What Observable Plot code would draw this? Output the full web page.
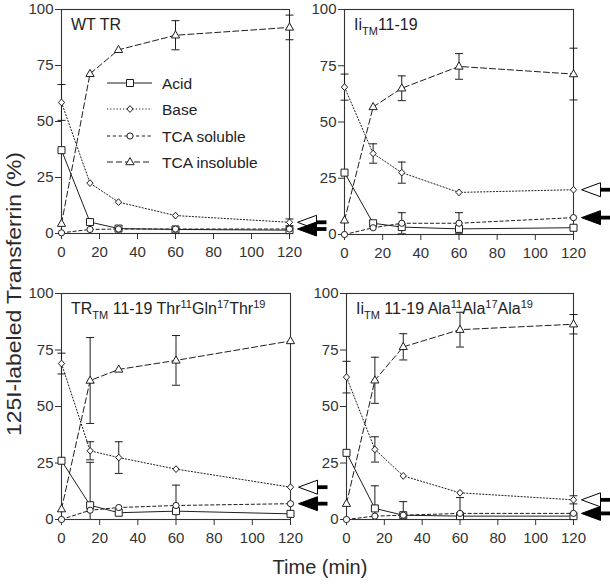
<!DOCTYPE html>
<html><head><meta charset="utf-8">
<script src="https://cdn.jsdelivr.net/npm/d3@7"></script>
<script src="https://cdn.jsdelivr.net/npm/@observablehq/plot@0.6"></script>
<style>
body{margin:0;background:#fff;}
#root{position:relative;width:610px;height:584px;font-family:"Liberation Sans",Arial,Helvetica,sans-serif;overflow:hidden;}
.panel{position:absolute;}
.panel svg{overflow:visible;}
</style></head><body><div id="root"></div>
<script>
// ---------- data ----------
const times = [0, 15, 30, 60, 120];
const xTicks = [0, 20, 40, 60, 80, 100, 120];
const yTicks = [0, 25, 50, 75, 100];
const seriesNames = ["Acid", "Base", "TCA soluble", "TCA insoluble"];

// Panel 1: WT TR
const wtAcid  = [37.2, 5.1, 2.2, 1.8, 1.5];
const wtBase  = [58.5, 22.5, 14.0, 8.0, 5.0];
const wtSol   = [0.3, 1.8, 2.0, 2.0, 2.0];
const wtInsol = [4.4, 71.3, 82.0, 88.5, 92.0];
const wtErr   = [["Base", 0, 8], ["TCA insoluble", 60, 6.5], ["TCA insoluble", 120, 5.5], ["Base", 120, 1.5]];

// Panel 2: Ii_TM 11-19
const iiAcid  = [27.5, 5.0, 3.3, 2.5, 3.0];
const iiBase  = [65.5, 36.0, 27.5, 18.7, 19.9];
const iiSol   = [0.0, 3.0, 5.0, 5.0, 7.5];
const iiInsol = [6.3, 56.7, 65.0, 74.7, 71.3];
const iiErr   = [["Base", 0, 5.8], ["Base", 15, 4.3], ["Base", 30, 4.7], ["TCA insoluble", 30, 5.5],
                 ["TCA insoluble", 60, 5.7], ["TCA insoluble", 120, 11.5], ["TCA soluble", 30, 4.7], ["TCA soluble", 60, 4.7]];

// Panel 3: TR_TM 11-19 Thr11Gln17Thr19
const trAcid  = [26.0, 6.3, 3.0, 3.7, 2.5];
const trBase  = [69.0, 30.4, 27.4, 22.3, 14.3];
const trSol   = [0.0, 4.1, 5.3, 6.2, 7.0];
const trInsol = [4.6, 61.5, 66.4, 70.4, 79.0];
const trErr   = [["Base", 0, 4.6], ["TCA insoluble", 15, 19], ["Base", 15, 4], ["Acid", 15, 19],
                 ["Base", 30, 7], ["TCA insoluble", 60, 11], ["TCA soluble", 60, 9]];

// Panel 4: Ii_TM 11-19 Ala11Ala17Ala19
const alaAcid  = [29.5, 4.9, 1.9, 1.5, 1.5];
const alaBase  = [63.0, 31.0, 19.3, 11.8, 8.7];
const alaSol   = [0.0, 1.5, 1.9, 2.7, 2.7];
const alaInsol = [7.0, 61.6, 76.4, 84.0, 86.4];
const alaErr   = [["Base", 0, 7], ["TCA insoluble", 15, 10.2], ["Base", 15, 5.6], ["Acid", 15, 10],
                  ["TCA insoluble", 30, 5.8], ["Acid", 30, 6], ["TCA insoluble", 60, 7.7], ["TCA soluble", 60, 7],
                  ["TCA insoluble", 120, 4.3], ["Base", 120, 1.8]];

// Panel titles as [text, kind] runs: n normal, sub subscript, sup superscript
const title1 = [["WT TR", "n"]];
const title2 = [["Ii", "n"], ["TM", "sub"], ["11-19", "n"]];
const title3 = [["TR", "n"], ["TM", "sub"], [" 11-19 Thr", "n"], ["11", "sup"], ["Gln", "n"], ["17", "sup"], ["Thr", "n"], ["19", "sup"]];
const title4 = [["Ii", "n"], ["TM", "sub"], [" 11-19 Ala", "n"], ["11", "sup"], ["Ala", "n"], ["17", "sup"], ["Ala", "n"], ["19", "sup"]];

// ---------- styles ----------
const INK = "#1e1e1e";
const FONT = '"Liberation Sans", Arial, Helvetica, sans-serif';
const sym = {
  square: {draw(c) { c.rect(-3.5, -3.5, 7, 7); }},
  diamond: {draw(c) { c.moveTo(0, -3.4); c.lineTo(3.1, 0); c.lineTo(0, 3.4); c.lineTo(-3.1, 0); c.closePath(); }},
  circle: {draw(c) { c.moveTo(3.1, 0); c.arc(0, 0, 3.1, 0, 2 * Math.PI); c.closePath(); }},
  triangle: {draw(c) { c.moveTo(0, -4.4); c.lineTo(4.1, 2.7); c.lineTo(-4.1, 2.7); c.closePath(); }}
};
const cap = {draw(c) { c.moveTo(-4, 0); c.lineTo(4, 0); }};
const arrowHead = {draw(c) { c.moveTo(8, 0); c.lineTo(27, -7); c.lineTo(27, 7); c.closePath(); }};
const arrowTail = {draw(c) { c.rect(27, -1.9, 10, 3.8); }};
const seriesStyle = {
  "Acid": {dash: null, symbol: sym.square},
  "Base": {dash: "1.2,2", symbol: sym.diamond},
  "TCA soluble": {dash: "3.2,2.6", symbol: sym.circle},
  "TCA insoluble": {dash: "6,3", symbol: sym.triangle}
};

const panels = [
  {values: [wtAcid, wtBase, wtSol, wtInsol], errors: wtErr, title: title1, left: 0, top: 0, width: 330, height: 292, mL: 61, mR: 41, mT: 9, mB: 59, legend: true},
  {values: [iiAcid, iiBase, iiSol, iiInsol], errors: iiErr, title: title2, left: 283, top: 0, width: 327, height: 292, mL: 61, mR: 37, mT: 9, mB: 58},
  {values: [trAcid, trBase, trSol, trInsol], errors: trErr, title: title3, left: 0, top: 286, width: 330, height: 292, mL: 61, mR: 40, mT: 7, mB: 59},
  {values: [alaAcid, alaBase, alaSol, alaInsol], errors: alaErr, title: title4, left: 285, top: 286, width: 325, height: 292, mL: 61, mR: 37, mT: 7, mB: 59}
];

const root = document.getElementById("root");

function addRuns(textSel, runs, big, small) {
  let shift = 0;
  runs.forEach(([txt, kind]) => {
    const target = kind === "sub" ? 5 : kind === "sup" ? -6 : 0;
    textSel.append("tspan")
      .attr("dy", target - shift)
      .attr("font-size", kind === "n" ? big : small)
      .text(txt);
    shift = target;
  });
}

panels.forEach(p => {
  const rows = [];
  seriesNames.forEach((s, i) => p.values[i].forEach((v, j) => rows.push({series: s, t: times[j], v})));
  const valueOf = (s, t) => p.values[seriesNames.indexOf(s)][times.indexOf(t)];
  const errRows = p.errors.map(([s, t, e]) => {
    const v = valueOf(s, t);
    return {t, lo: Math.max(0, v - e), hi: v + e, showLo: v - e > 0};
  });
  const base120 = [{t: 120, v: valueOf("Base", 120)}];
  const sol120 = [{t: 120, v: valueOf("TCA soluble", 120)}];

  const marks = [
    Plot.axisX({ticks: xTicks, tickSize: 6, tickPadding: 7, label: null, stroke: "#333"}),
    Plot.axisY({ticks: yTicks, tickSize: 6, tickPadding: 2, label: null, stroke: "#333"}),
    Plot.frame({stroke: "#333", strokeWidth: 1.1})
  ];
  seriesNames.forEach(s => {
    marks.push(Plot.line(rows.filter(d => d.series === s), {x: "t", y: "v", stroke: INK, strokeWidth: 1, strokeDasharray: seriesStyle[s].dash}));
  });
  marks.push(Plot.ruleX(errRows, {x: "t", y1: "lo", y2: "hi", stroke: INK, strokeWidth: 1}));
  marks.push(Plot.dot(errRows, {x: "t", y: "hi", symbol: cap, stroke: INK, fill: "none", strokeWidth: 1}));
  marks.push(Plot.dot(errRows.filter(d => d.showLo), {x: "t", y: "lo", symbol: cap, stroke: INK, fill: "none", strokeWidth: 1}));
  seriesNames.forEach(s => {
    marks.push(Plot.dot(rows.filter(d => d.series === s), {x: "t", y: "v", symbol: seriesStyle[s].symbol, fill: "white", stroke: INK, strokeWidth: 1}));
  });
  marks.push(Plot.dot(base120, {x: "t", y: "v", symbol: arrowHead, fill: "white", stroke: "#000", strokeWidth: 1}));
  marks.push(Plot.dot(base120, {x: "t", y: "v", symbol: arrowTail, fill: "#000", stroke: "none"}));
  marks.push(Plot.dot(sol120, {x: "t", y: "v", symbol: arrowHead, fill: "#000", stroke: "#000", strokeWidth: 1}));
  marks.push(Plot.dot(sol120, {x: "t", y: "v", symbol: arrowTail, fill: "#000", stroke: "none"}));

  const svg = Plot.plot({
    width: p.width, height: p.height,
    marginLeft: p.mL, marginRight: p.mR, marginTop: p.mT, marginBottom: p.mB,
    x: {domain: [0, 120]},
    y: {domain: [0, 100]},
    style: {background: "transparent", overflow: "visible", fontFamily: FONT, fontSize: "15px", color: "#333"},
    marks
  });

  const s = d3.select(svg);
  // panel title
  const t = s.append("text")
    .attr("x", p.mL + 10).attr("y", p.mT + 21)
    .attr("text-anchor", "start")
    .attr("fill", "#222").attr("font-family", FONT);
  addRuns(t, p.title, 16, 11);

  // legend
  if (p.legend) {
    const g = s.append("g").attr("font-family", FONT).attr("font-size", 15.5)
      .attr("fill", "#222").attr("text-anchor", "start");
    const rowsY = [83, 109, 136, 162];
    seriesNames.forEach((name, i) => {
      const y = rowsY[i];
      g.append("line").attr("x1", 107).attr("x2", 152).attr("y1", y).attr("y2", y)
        .attr("stroke", INK).attr("stroke-width", 1)
        .attr("stroke-dasharray", seriesStyle[name].dash);
      const path = d3.path(); seriesStyle[name].symbol.draw(path);
      g.append("path").attr("d", path.toString()).attr("transform", `translate(130,${y})`)
        .attr("fill", "white").attr("stroke", INK);
      g.append("text").attr("x", 162).attr("y", y).attr("dy", "0.36em").text(name);
    });
  }

  const div = document.createElement("div");
  div.className = "panel";
  div.style.left = p.left + "px";
  div.style.top = p.top + "px";
  div.style.width = p.width + "px";
  div.style.height = p.height + "px";
  div.appendChild(svg);
  root.appendChild(div);
});

// axis titles
const over = d3.select(root).append("svg")
  .attr("width", 610).attr("height", 584)
  .style("position", "absolute").style("left", 0).style("top", 0).style("pointer-events", "none")
  .attr("font-family", FONT).attr("fill", "#2a2a2a");
over.append("text")
  .attr("transform", "translate(21,294) rotate(-90)")
  .attr("text-anchor", "middle").attr("font-size", 21)
  .attr("textLength", 284).attr("lengthAdjust", "spacingAndGlyphs")
  .text("125I-labeled Transferrin (%)");
over.append("text")
  .attr("x", 320).attr("y", 574)
  .attr("text-anchor", "middle").attr("font-size", 20)
  .text("Time (min)");
</script>
</body></html>
